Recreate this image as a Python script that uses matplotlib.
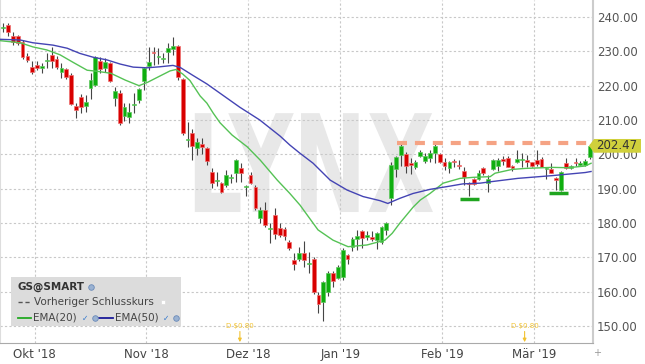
import numpy as np
import matplotlib
matplotlib.use("Agg")
import matplotlib.pyplot as plt
import matplotlib.transforms as mtransforms
from matplotlib.lines import Line2D
from matplotlib.patches import PathPatch, Rectangle, Polygon
from matplotlib.textpath import TextPath
from matplotlib.font_manager import FontProperties

plt.rcParams['font.family'] = ['DejaVu Sans']

# GS Tageskerzen (Handelstage ab 20.09.2018)
opens = [236.8, 237.8, 234.5, 234.5, 232.8, 228.6, 225.5, 226.0, 225.2, 227.2,
         228.9, 227.7, 224.1, 224.9, 223.1, 214.1, 216.8, 214.1, 219.2, 220.2,
         227.2, 225.0, 226.5, 216.5, 217.8, 211.3, 210.8, 214.3, 215.8, 221.5,
         225.7, 229.9, 228.3, 227.7, 229.9, 230.8, 231.6, 221.8, 204.3, 206.1,
         201.7, 202.9, 201.7, 194.9, 192.2, 191.6, 191.1, 193.2, 194.7, 195.9,
         190.4, 193.9, 190.6, 181.4, 183.8, 178.3, 182.3, 178.4, 178.2, 174.6,
         169.2, 169.4, 171.3, 168.0, 169.4, 159.0, 157.1, 160.0, 165.5, 163.9,
         164.4, 170.6, 173.1, 175.2, 177.8, 175.8, 175.8, 175.0, 174.6, 178.1,
         187.2, 195.6, 199.8, 200.1, 197.4, 196.2, 199.6, 198.1, 198.8, 200.5,
         200.1, 197.7, 195.9, 197.9, 196.9, 195.2, 191.6, 192.7, 192.7, 195.9,
         191.6, 195.6, 196.6, 198.5, 199.0, 196.6, 197.9, 198.3, 198.3, 197.9,
         198.3, 198.5, 195.6, 195.6, 193.0, 189.6, 197.4, 195.9, 197.7, 196.8,
         197.0, 199.3]
highs = [238.2, 238.2, 235.5, 234.8, 233.3, 229.4, 227.2, 227.2, 226.5, 229.4,
         231.2, 228.6, 226.5, 225.0, 223.6, 214.9, 217.6, 217.3, 223.6, 228.6,
         228.4, 228.0, 227.0, 219.5, 218.7, 214.9, 215.0, 217.8, 219.2, 225.5,
         231.4, 231.4, 230.9, 229.4, 232.5, 234.1, 231.7, 222.1, 209.5, 207.3,
         204.7, 204.7, 202.0, 195.9, 194.9, 192.0, 195.4, 194.4, 198.5, 197.4,
         191.1, 194.9, 191.1, 184.8, 186.2, 179.9, 184.3, 179.9, 178.7, 175.0,
         171.3, 172.9, 174.8, 171.6, 170.0, 160.0, 163.2, 166.1, 166.1, 167.8,
         172.6, 171.1, 175.8, 178.0, 178.1, 177.8, 177.8, 177.5, 179.1, 180.4,
         197.9, 199.5, 203.2, 200.8, 198.8, 198.3, 201.3, 200.3, 201.3, 203.2,
         200.5, 198.8, 198.2, 198.5, 198.3, 196.2, 191.8, 193.0, 195.4, 196.2,
         194.0, 198.5, 198.8, 199.5, 199.5, 196.9, 201.3, 200.5, 199.8, 197.9,
         201.3, 199.3, 196.2, 197.4, 193.5, 195.2, 198.8, 196.9, 198.8, 198.2,
         198.5, 202.9]
lows = [235.7, 234.5, 231.8, 231.8, 227.7, 227.0, 223.4, 224.6, 223.6, 225.0,
        225.0, 224.8, 222.1, 221.9, 214.3, 210.5, 211.9, 212.4, 216.0, 219.9,
        223.8, 224.1, 221.2, 214.1, 208.5, 209.8, 209.2, 211.9, 214.9, 218.7,
        224.6, 226.0, 226.3, 226.5, 226.5, 228.9, 221.6, 205.6, 202.0, 198.3,
        199.8, 200.1, 196.9, 190.1, 190.8, 188.8, 190.6, 191.6, 192.0, 192.0,
        187.9, 191.4, 183.8, 179.9, 178.9, 174.3, 175.4, 176.0, 175.0, 172.1,
        166.3, 168.9, 167.3, 165.3, 159.3, 153.9, 151.5, 158.8, 161.5, 163.6,
        163.4, 168.1, 171.9, 172.1, 172.6, 175.0, 174.8, 172.3, 173.9, 176.5,
        185.2, 193.5, 196.6, 194.5, 194.3, 195.6, 199.3, 197.4, 197.9, 197.6,
        197.4, 195.4, 194.7, 196.4, 195.6, 191.1, 187.9, 191.1, 192.5, 194.0,
        189.1, 195.4, 195.2, 196.9, 196.2, 195.2, 197.6, 196.2, 196.4, 196.4,
        196.6, 196.2, 192.7, 194.5, 189.6, 189.3, 195.6, 195.6, 196.6, 196.6,
        196.6, 198.5]
closes = [237.1, 235.5, 232.8, 232.3, 228.4, 227.5, 224.1, 225.0, 225.7, 227.4,
          227.2, 225.5, 225.0, 222.6, 214.7, 212.9, 213.9, 215.3, 221.7, 228.3,
          224.8, 226.9, 221.5, 218.4, 209.2, 213.7, 212.2, 214.5, 218.9, 225.0,
          227.0, 229.4, 228.5, 227.9, 231.1, 231.5, 222.4, 206.1, 204.6, 202.4,
          203.5, 202.0, 198.2, 191.6, 192.4, 188.9, 194.1, 193.4, 198.3, 194.7,
          190.6, 191.6, 184.3, 183.8, 179.4, 178.5, 176.8, 176.5, 176.2, 172.8,
          168.1, 171.3, 169.2, 168.2, 160.0, 156.4, 162.9, 165.3, 163.1, 167.3,
          172.1, 169.4, 175.2, 176.2, 175.5, 176.5, 175.2, 177.0, 178.7, 179.9,
          196.9, 199.1, 202.4, 196.6, 196.9, 197.7, 200.8, 199.6, 200.5, 202.5,
          197.9, 196.6, 197.7, 197.7, 196.6, 193.3, 191.3, 191.4, 194.5, 194.5,
          192.7, 198.3, 198.3, 198.1, 196.4, 195.9, 198.5, 198.6, 197.9, 196.6,
          197.1, 196.2, 196.1, 194.7, 192.5, 194.9, 195.9, 196.6, 197.4, 197.6,
          198.2, 202.5]

# EMA-Linien (Position = Kerzenindex)
ema20_x = [-0.6, 3.5, 6.1, 9.0, 11.7, 14.4, 17.3, 19.3, 22.2, 25.2, 28.0, 29.8,
           32.3, 34.4, 35.6, 37.0, 38.5, 40.6, 42.0, 43.3, 44.7, 47.2, 50.3, 53.0,
           56.5, 59.1, 61.2, 64.9, 68.0, 71.1, 75.0, 78.7, 80.2, 81.8, 84.5, 86.0,
           88.0, 90.7, 94.2, 96.9, 100.4, 101.4, 104.9, 107.6, 113.2, 116.5, 120.0, 121.2]
ema20 = [233.1, 232.5, 231.3, 230.4, 229.0, 226.8, 224.5, 224.2, 223.6, 221.6, 220.0, 221.0,
         222.8, 224.3, 224.7, 223.4, 221.5, 217.0, 214.9, 212.0, 209.2, 205.6, 202.2, 198.3,
         192.5, 188.6, 185.2, 178.0, 175.0, 173.1, 173.6, 175.0, 177.0, 180.0, 184.6, 186.7,
         188.6, 191.6, 193.0, 193.3, 193.5, 194.5, 195.6, 195.9, 196.2, 196.1, 196.6, 197.4]
ema50_x = [-0.6, 3.5, 6.1, 10.3, 13.2, 15.8, 18.5, 21.4, 24.1, 26.8, 29.6, 32.3, 35.0,
           36.5, 39.1, 42.0, 44.7, 48.8, 52.9, 57.1, 59.1, 61.2, 63.9, 67.4, 70.9, 74.2,
           77.7, 79.3, 81.8, 84.5, 88.0, 91.5, 94.8, 98.3, 100.4, 106.1, 113.2, 120.0, 121.2]
ema50 = [233.5, 233.3, 232.5, 231.8, 230.9, 229.4, 228.3, 227.5, 226.3, 225.4, 225.2, 225.5, 225.9,
         225.3, 223.0, 220.5, 217.8, 213.7, 210.0, 205.3, 202.7, 200.3, 197.4, 192.5, 189.6, 187.7,
         186.5, 185.7, 187.2, 188.6, 189.8, 190.6, 191.4, 191.6, 192.0, 193.0, 193.8, 194.7, 195.0]

month_pos = [6.5, 29.5, 50.5, 69.5, 90.5, 109.5]
month_labels = ["Okt '18", "Nov '18", "Dez '18", "Jan '19", "Feb '19", "Mär '19"]
yticks = [150, 160, 170, 180, 190, 200, 210, 220, 230, 240]

prev_close = 203.2
last_price = 202.47
support_lines = [(94.2, 98.1, 187.0), (112.5, 116.5, 188.6)]
dividend_pos = [48.8, 107.5]
dividend_text = 'D \\$0.80'

W, H = 645, 364
def fx(px):
    return px / W
def fy(py):
    return 1 - py / H

fig = plt.figure(figsize=(W / 100, H / 100), dpi=100)
ax = fig.add_axes([0, 21 / H, 593 / W, 343 / H])

o = np.array(opens)
c = np.array(closes)
hi = np.array(highs)
lo = np.array(lows)
x = np.arange(len(c))
up = c >= o

# Kerzen
ax.vlines(x, lo, hi, color='#454545', lw=0.8, zorder=3)
body_lo = np.minimum(o, c)
body_h = np.maximum(np.abs(c - o), 0.3)
ax.bar(x[up], body_h[up], bottom=body_lo[up], width=0.78, color='#0fae0f',
       edgecolor='#60c860', lw=0.5, zorder=4)
ax.bar(x[~up], body_h[~up], bottom=body_lo[~up], width=0.78, color='#d80000',
       edgecolor='#ee7272', lw=0.5, zorder=4)

# EMAs
ax.plot(ema20_x, ema20, color='#55c255', lw=1.0, zorder=5)
ax.plot(ema50_x, ema50, color='#4444b4', lw=1.0, zorder=5)

# Vorheriger Schlusskurs + Unterstuetzungen
ax.plot([81.1, 121.5], [prev_close, prev_close], color='#f5a384', lw=3,
        dashes=(2.4, 1.9), zorder=6)
for x0, x1, lvl in support_lines:
    ax.plot([x0, x1], [lvl, lvl], color='#1fa51f', lw=2.5, solid_capstyle='butt', zorder=6)

# Wasserzeichen
fp = FontProperties(family='DejaVu Sans', weight='bold')
tp = TextPath((0, 0), 'LYNX', size=1, prop=fp)
bb = tp.get_extents()
wm_x0, wm_x1, wm_y0, wm_y1 = 39.5, 88.6, 183.2, 212.0
tr = (mtransforms.Affine2D().translate(-bb.x0, -bb.y0)
      .scale((wm_x1 - wm_x0) / bb.width, (wm_y1 - wm_y0) / bb.height)
      .translate(wm_x0, wm_y0) + ax.transData)
ax.add_patch(PathPatch(tp, transform=tr, fc='#e8e8e8', ec='none', zorder=0.2))

# Dividenden
for d in dividend_pos:
    ax.text(d, 150.0, dividend_text, fontsize=5, color='#f2c230', ha='center',
            va='center', zorder=7)
    ax.annotate('', xy=(d, 145.3), xytext=(d, 148.4), annotation_clip=False,
                arrowprops=dict(arrowstyle='-|>', color='#f2c230', lw=0.8,
                                mutation_scale=5, shrinkA=0, shrinkB=0))

ax.set_xlim(-0.66, 121.6)
ax.set_ylim(145.05, 244.95)
ax.set_xticks(month_pos)
ax.set_xticklabels(month_labels)
ax.set_yticks(yticks)
ax.set_yticklabels([f'{v:.2f}' for v in yticks])
ax.yaxis.tick_right()
ax.tick_params(axis='x', length=0, pad=3.5, labelsize=8.5, labelcolor='#444444')
ax.tick_params(axis='y', length=0, pad=3, labelsize=8.5, labelcolor='#555555')
ax.grid(True, color='#c8c8c8', linestyle=(0, (2, 2)), lw=0.8)
ax.set_axisbelow(True)
ax.spines['top'].set_visible(False)
ax.spines['left'].set_color('#dddddd')
ax.spines['bottom'].set_color('#aaaaaa')
ax.spines['bottom'].set_linewidth(0.8)
ax.spines['right'].set_color('#cccccc')
ax.spines['right'].set_linewidth(1.5)

# Kursmarke rechts
bt = mtransforms.blended_transform_factory(fig.transFigure, ax.transData)
hh = 2.0
fig.add_artist(Polygon([(fx(589), last_price), (fx(594), last_price + hh),
                        (fx(641), last_price + hh), (fx(641), last_price - hh),
                        (fx(594), last_price - hh)], closed=True, transform=bt,
                       fc='#d0d03c', ec='none', zorder=10))
fig.text(fx(617), last_price, f'{last_price:.2f}', transform=bt, fontsize=8.5,
         color='#333333', ha='center', va='center', zorder=11)
fig.text(fx(597), fy(353), '+', fontsize=7, color='#999999', ha='center', va='center')

# Legende
fig.add_artist(Rectangle((fx(11), fy(326)), (181 - 11) / W, (326 - 277) / H,
                         transform=fig.transFigure, fc='#dcdcdc', ec='none', zorder=8))
fig.text(fx(18), fy(287), 'GS@SMART', fontsize=7.5, weight='bold', color='#333333',
         va='center', zorder=9)
fig.add_artist(Line2D([fx(91)], [fy(287)], marker='o', ms=4, mfc='#9ab2d2',
                      mec='#6a8ab8', mew=0.6, transform=fig.transFigure, zorder=9))
fig.add_artist(Line2D([fx(18), fx(31)], [fy(302), fy(302)], color='#555555', lw=1,
                      dashes=(3, 2), transform=fig.transFigure, zorder=9))
fig.text(fx(33.5), fy(302), 'Vorheriger Schlusskurs', fontsize=7.5, color='#444444',
         va='center', zorder=9)
fig.add_artist(Line2D([fx(163)], [fy(302)], marker='s', ms=3.5, mfc='white',
                      mec='#dddddd', mew=0.5, transform=fig.transFigure, zorder=9))
fig.add_artist(Line2D([fx(18), fx(31)], [fy(318), fy(318)], color='#22aa22', lw=1.3,
                      transform=fig.transFigure, zorder=9))
fig.text(fx(33.5), fy(318), 'EMA(20)', fontsize=7.5, color='#444444', va='center', zorder=9)
fig.add_artist(Line2D([fx(98), fx(113)], [fy(318), fy(318)], color='#1a1a99', lw=1.3,
                      transform=fig.transFigure, zorder=9))
fig.text(fx(115), fy(318), 'EMA(50)', fontsize=7.5, color='#444444', va='center', zorder=9)
for cx in (85, 166):
    fig.text(fx(cx), fy(318), '✓', fontsize=5.5, color='#3377cc', ha='center',
             va='center', zorder=9)
for gx in (95, 176):
    fig.add_artist(Line2D([fx(gx)], [fy(318)], marker='o', ms=4, mfc='#9ab2d2',
                          mec='#6a8ab8', mew=0.6, transform=fig.transFigure, zorder=9))

fig.savefig('out.png', dpi=100)
